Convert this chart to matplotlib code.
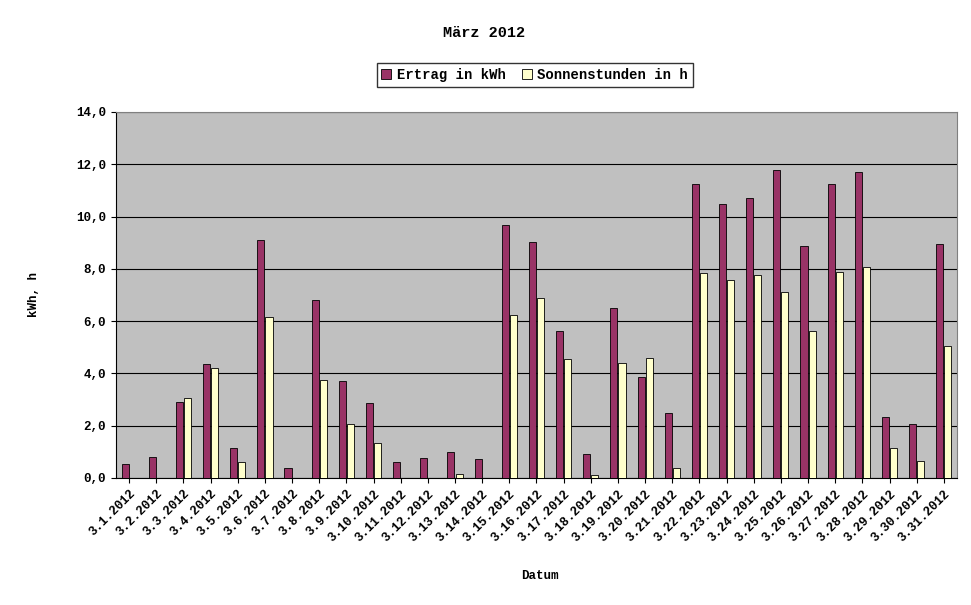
import matplotlib
matplotlib.use("Agg")
import matplotlib.pyplot as plt
import numpy as np

days = [f"3.{d}.2012" for d in range(1, 32)]
ertrag = [0.54,0.8,2.9,4.37,1.15,9.12,0.38,6.82,3.72,2.87,0.61,0.77,1.0,0.73,9.69,9.04,5.63,0.92,6.51,3.87,2.49,11.26,10.46,10.69,11.76,8.89,11.23,11.69,2.34,2.07,8.93]
sonne = [0,0,3.07,4.21,0.61,6.17,0,3.75,2.07,1.34,0,0,0.15,0,6.25,6.9,4.56,0.12,4.4,4.6,0.38,7.82,7.59,7.78,7.13,5.63,7.89,8.08,1.15,0.65,5.06]

plt.rcParams['font.family'] = ['Liberation Mono', 'DejaVu Sans Mono']
plt.rcParams['font.weight'] = 'bold'
fig = plt.figure(figsize=(9.71, 6.05), dpi=100)
ax = fig.add_axes([0.119, 0.21, 0.867, 0.605])
ax.set_facecolor('#C0C0C0')
x = np.arange(len(days))
w = 0.26
ax.bar(x - w/2 - 0.02, ertrag, w, color='#993366', edgecolor='black', linewidth=0.6, label='Ertrag in kWh', zorder=3)
ax.bar(x + w/2 + 0.02, sonne, w, color='#FFFFCC', edgecolor='black', linewidth=0.6, label='Sonnenstunden in h', zorder=3)
ax.set_xlim(-0.5, len(days) - 0.5)
ax.set_ylim(0, 14)
yt = np.arange(0, 14.1, 2)
ax.set_yticks(yt)
ax.set_yticklabels([f"{v:.1f}".replace('.', ',') for v in yt], fontsize=9, fontweight='bold')
ax.yaxis.grid(True, color='black', linewidth=0.8, zorder=1)
ax.set_xticks(x)
ax.set_xticklabels(days, rotation=45, ha='right', rotation_mode='anchor', fontsize=9, fontweight='bold')
for s in ax.spines.values():
    s.set_color('#808080')
ax.spines['left'].set_color('black')
ax.spines['bottom'].set_color('black')
ax.set_ylabel('kWh, h', fontsize=9, fontweight='bold', labelpad=26)
fig.text(0.556, 0.048, 'Datum', ha='center', va='center', fontsize=9, fontweight='bold')
fig.text(0.499, 0.945, 'März 2012', ha='center', va='center', fontsize=11, fontweight='bold')
leg = ax.legend(loc='center', bbox_to_anchor=(0.498, 1.101), ncol=2, frameon=True, fancybox=False,
                edgecolor='black', fontsize=10, handlelength=0.7, handletextpad=0.4, columnspacing=1.2,
                borderpad=0.35)
fig.savefig('out.png', dpi=100)
